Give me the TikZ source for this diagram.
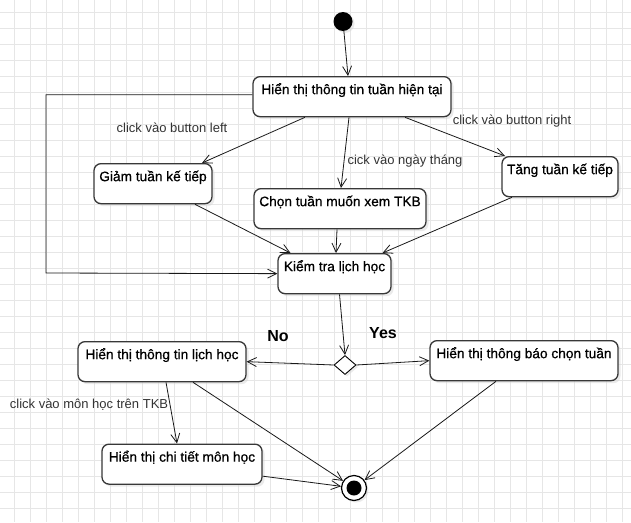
\documentclass[tikz,border=0pt]{standalone}
\usepackage{fontspec}
\setmainfont{Liberation Sans}
\newfontfamily\boxfamily{Liberation Sans}[FakeBold=0.7]
\usepackage{tikz}
\usetikzlibrary{arrows.meta}
\usetikzlibrary{shapes.geometric}
\usetikzlibrary{shadows}
\definecolor{GridGray}{HTML}{E6E6E6}
\definecolor{BoxLine}{HTML}{383838}
\definecolor{LabelGray}{HTML}{333333}
\newcommand{\boxfont}{\boxfamily\fontsize{13.7pt}{16pt}\selectfont}
\newcommand{\labelfont}{\fontsize{13pt}{15pt}\selectfont}
\newcommand{\answerfont}{\fontsize{16pt}{18pt}\selectfont\bfseries}
\tikzset{
	gridline/.style={draw=GridGray, line width=0.9pt},
	%
	activity/.style={draw=BoxLine, line width=1.3pt, rounded corners=7pt, fill=white,
		inner sep=0pt, text height=17.5pt, text depth=22.5pt, font=\boxfont, anchor=north,
		drop shadow={shadow xshift=2.5pt, shadow yshift=-2.5pt, fill=black!16}},
	flow/.style={draw=black!90, line width=0.8pt, -{Straight Barb[length=9pt,width=9pt]}},
	edgelabel/.style={text=LabelGray, font=\labelfont, inner sep=0pt},
	answer/.style={font=\answerfont, inner sep=0pt},
}

\begin{document}
\begin{tikzpicture}[x=1pt,y=-1pt]
	\useasboundingbox (0,0) rectangle (631,522);
	\fill[white] (0,0) rectangle (631,522);
	\foreach \gx in {14,30,...,630} \draw[gridline] (\gx,0) -- (\gx,522);
	\foreach \gy in {12,28,...,521} \draw[gridline] (0,\gy) -- (631,\gy);
	
	\node[circle, fill=black, minimum size=19pt, inner sep=0pt,
		drop shadow={shadow xshift=2pt, shadow yshift=-2pt, fill=black!16}] (start) at (343,21.5) {};
	
	\node[activity, minimum width=198pt] (current) at (352,76) {Hiển thị thông tin tuần hiện tại};
	\node[activity, minimum width=118pt] (decrease) at (153,163) {Giảm tuần kế tiếp};
	\node[activity, minimum width=172pt] (pick) at (340,188) {Chọn tuần muốn xem TKB};
	\node[activity, minimum width=116pt] (increase) at (560,156) {Tăng tuần kế tiếp};
	\node[activity, minimum width=113pt] (check) at (334.5,253) {Kiểm tra lịch học};
	
	\node[diamond, draw=black, line width=0.9pt, fill=white, minimum width=22pt, minimum height=19pt, inner sep=0pt,
		drop shadow={shadow xshift=2pt, shadow yshift=-2pt, fill=black!16}] (choice) at (345,365) {};
	
	\node[activity, minimum width=168pt] (schedule) at (162,341) {Hiển thị thông tin lịch học};
	\node[activity, minimum width=188pt] (notice) at (524,340) {Hiển thị thông báo chọn tuần};
	\node[activity, minimum width=160pt] (detail) at (182,443.5) {Hiển thị chi tiết môn học};
	
	\node[circle, draw=black, line width=1.2pt, fill=white, minimum size=25pt, inner sep=0pt,
		drop shadow={shadow xshift=2pt, shadow yshift=-2pt, fill=black!16}] (finish) at (354,488) {};
	\fill[black] (finish.center) circle (7.5);
	
	\draw[flow] (start) -- ([xshift=-4pt]current.north);
	\draw[flow] ([xshift=-47pt]current.south) -- ([xshift=49pt]decrease.north);
	\draw[flow] ([xshift=-3pt]current.south) -- ([xshift=1pt]pick.north);
	\draw[flow] ([xshift=53pt]current.south) -- ([xshift=-55pt]increase.north);
	\coordinate (loopcorner) at (46,273);
	\draw[flow] ([yshift=2pt]current.west) -| (loopcorner) -- (check.west);
	\draw[flow] ([xshift=42pt]decrease.south) -- ([xshift=-44pt]check.north);
	\draw[flow] ([xshift=-3pt]pick.south) -- ([xshift=1.5pt]check.north);
	\draw[flow] ([xshift=-48pt]increase.south) -- ([xshift=48pt]check.north);
	\draw[flow] ([xshift=5pt]check.south) -- (choice.north);
	\draw[flow] (choice.west) -- (schedule.east);
	\draw[flow] (choice.east) -- (notice.west);
	\draw[flow] ([xshift=4pt]schedule.south) -- ([xshift=-5pt]detail.north);
	\draw[flow] ([xshift=31pt]schedule.south) -- (finish);
	\draw[flow] ([yshift=-12pt]detail.east) -- (finish);
	\draw[flow] ([xshift=-28pt]notice.south) -- (finish);
	
	\node[edgelabel] (leftclick) at (172,128) {click vào button left};
	\node[edgelabel] (dateclick) at (405,161) {cick vào ngày tháng};
	\node[edgelabel] (rightclick) at (512,121.5) {click vào button right};
	\node[edgelabel] (subjectclick) at (89,405) {click vào môn học trên TKB};
	\node[answer] (no) at (278,336) {No};
	\node[answer] (yes) at (383,333.5) {Yes};
\end{tikzpicture}
\end{document}
